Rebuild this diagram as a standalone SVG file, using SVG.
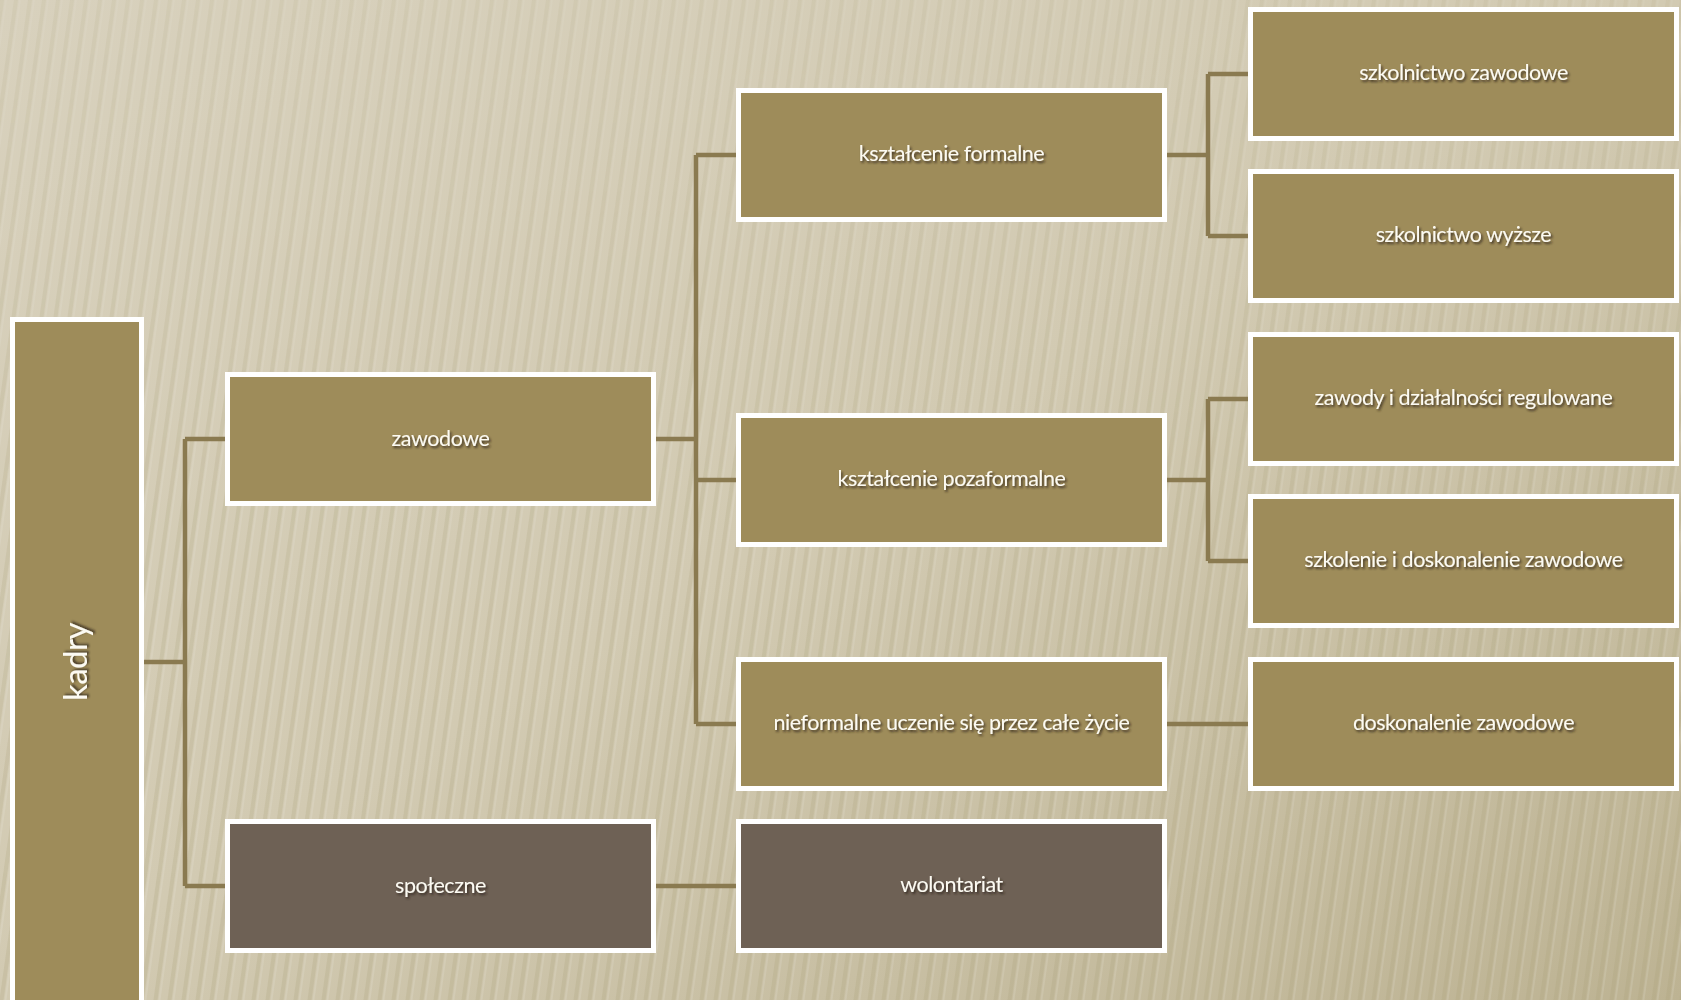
<svg xmlns="http://www.w3.org/2000/svg" width="1681" height="1000" viewBox="0 0 1681 1000">
  <defs>
    <linearGradient id="bg" x1="0" y1="0" x2="1" y2="1">
      <stop offset="0" stop-color="#d8d1bd"/>
      <stop offset="0.5" stop-color="#d2cab2"/>
      <stop offset="1" stop-color="#bdb393"/>
    </linearGradient>
    <pattern id="stripes" width="14" height="40" patternUnits="userSpaceOnUse" patternTransform="skewX(-8)">
      <rect x="0" y="0" width="4" height="40" fill="#a89d74" opacity="0.22"/>
      <rect x="5" y="0" width="2" height="40" fill="#ffffff" opacity="0.12"/>
    </pattern>
    <linearGradient id="fade" x1="0" y1="0" x2="0" y2="1">
      <stop offset="0" stop-color="#fff" stop-opacity="0.5"/>
      <stop offset="0.5" stop-color="#fff" stop-opacity="0.9"/>
      <stop offset="1" stop-color="#fff" stop-opacity="1"/>
    </linearGradient>
    <mask id="stripeMask">
      <rect width="1681" height="1000" fill="url(#fade)"/>
    </mask>
    <filter id="ts" x="-10%" y="-30%" width="120%" height="160%">
      <feDropShadow dx="1.5" dy="2" stdDeviation="1.2" flood-color="#2a2418" flood-opacity="0.8"/>
    </filter>
  </defs>
  <style>
    .box { fill: #9e8c5a; stroke: #ffffff; stroke-width: 5; }
    .box2 { fill: #6e6155; stroke: #ffffff; stroke-width: 5; }
    .lbl { font-family: "Lato", "Open Sans", "Liberation Sans", sans-serif; font-size: 21.5px; letter-spacing: -0.45px; fill: #fcfaf2; text-anchor: middle; filter: url(#ts); }
    .con { fill: none; stroke: #8a7a50; stroke-width: 4.5; stroke-linejoin: miter; }
  </style>

  <rect width="1681" height="1000" fill="url(#bg)"/>
  <rect width="1681" height="1000" fill="url(#stripes)" mask="url(#stripeMask)"/>

  <g id="connectors">
    <path class="con" d="M144 662 H185 M185 439 V886 M185 439 H227 M185 886 H227"/>
    <path class="con" d="M656 439 H696 M696 155 V724 M696 155 H738 M696 480 H738 M696 724 H738"/>
    <path class="con" d="M656 886 H738"/>
    <path class="con" d="M1167 155 H1208 M1208 74 V236 M1208 74 H1250 M1208 236 H1250"/>
    <path class="con" d="M1167 480 H1208 M1208 399 V561 M1208 399 H1250 M1208 561 H1250"/>
    <path class="con" d="M1167 724 H1250"/>
  </g>

  <g id="kadry">
    <rect class="box" x="12.5" y="319.5" width="129" height="700"/>
    <text class="lbl" transform="translate(87 662) rotate(-90)" x="0" y="0" style="font-size:33px;letter-spacing:-0.5px">kadry</text>
  </g>

  <g id="zawodowe">
    <rect class="box" x="227.5" y="374.5" width="426" height="129"/>
    <text class="lbl" x="440.5" y="446">zawodowe</text>
  </g>
  <g id="spoleczne">
    <rect class="box2" x="227.5" y="821.5" width="426" height="129"/>
    <text class="lbl" x="440.5" y="893">społeczne</text>
  </g>

  <g id="ksztalcenie-formalne">
    <rect class="box" x="738.5" y="90.5" width="426" height="129"/>
    <text class="lbl" x="951.5" y="161">kształcenie formalne</text>
  </g>
  <g id="ksztalcenie-pozaformalne">
    <rect class="box" x="738.5" y="415.5" width="426" height="129"/>
    <text class="lbl" x="951.5" y="486">kształcenie pozaformalne</text>
  </g>
  <g id="nieformalne">
    <rect class="box" x="738.5" y="659.5" width="426" height="129"/>
    <text class="lbl" x="951.5" y="730">nieformalne uczenie się przez całe życie</text>
  </g>
  <g id="wolontariat">
    <rect class="box2" x="738.5" y="821.5" width="426" height="129"/>
    <text class="lbl" x="951.5" y="892">wolontariat</text>
  </g>

  <g id="szkolnictwo-zawodowe">
    <rect class="box" x="1250.5" y="9.5" width="426" height="129"/>
    <text class="lbl" x="1463.5" y="80">szkolnictwo zawodowe</text>
  </g>
  <g id="szkolnictwo-wyzsze">
    <rect class="box" x="1250.5" y="171.5" width="426" height="129"/>
    <text class="lbl" x="1463.5" y="242">szkolnictwo wyższe</text>
  </g>
  <g id="zawody-regulowane">
    <rect class="box" x="1250.5" y="334.5" width="426" height="129"/>
    <text class="lbl" x="1463.5" y="405">zawody i działalności regulowane</text>
  </g>
  <g id="szkolenie">
    <rect class="box" x="1250.5" y="496.5" width="426" height="129"/>
    <text class="lbl" x="1463.5" y="567">szkolenie i doskonalenie zawodowe</text>
  </g>
  <g id="doskonalenie-zawodowe">
    <rect class="box" x="1250.5" y="659.5" width="426" height="129"/>
    <text class="lbl" x="1463.5" y="730">doskonalenie zawodowe</text>
  </g>
</svg>
